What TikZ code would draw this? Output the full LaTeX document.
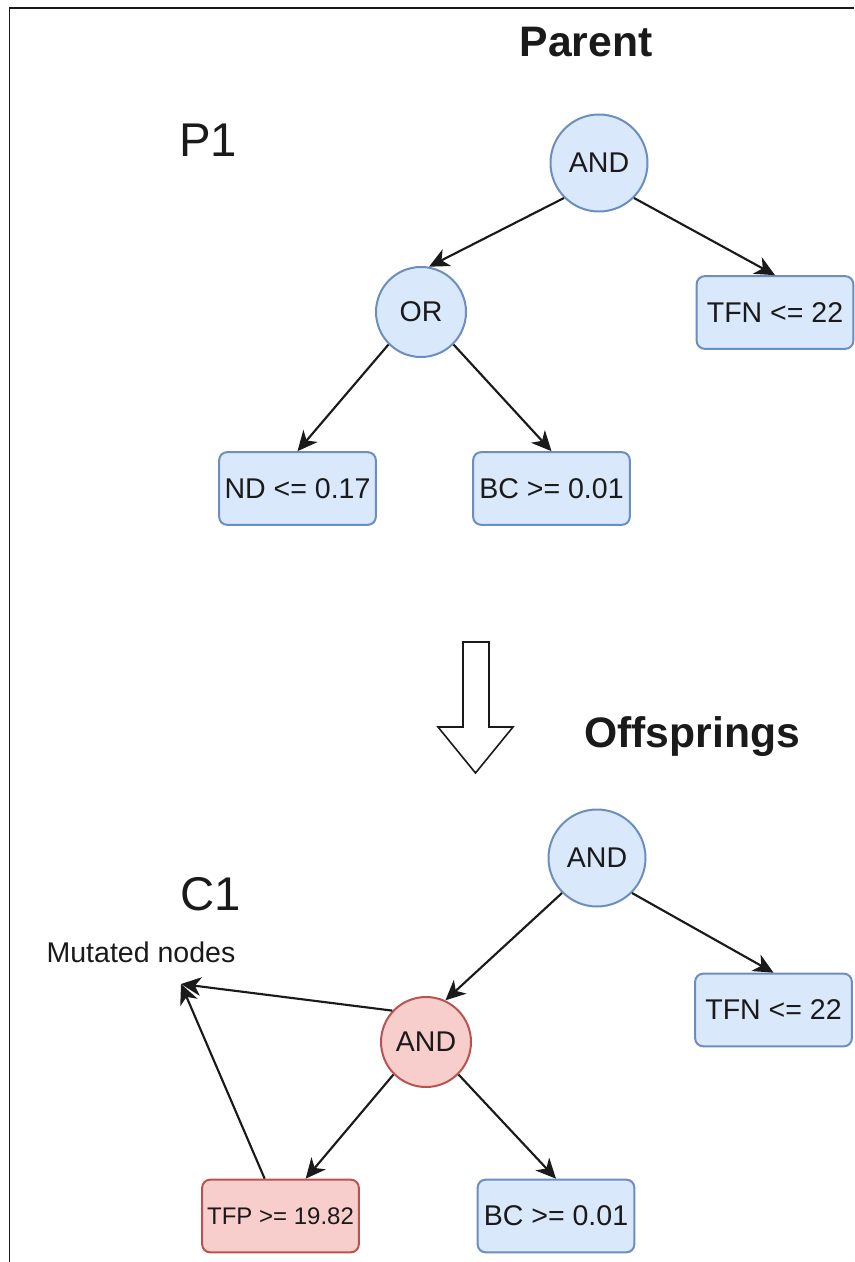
\documentclass[tikz,border=0pt]{standalone}
\usepackage{fontspec}
\setmainfont{Liberation Sans}
\usepackage{tikz}
\usetikzlibrary{arrows.meta}

\definecolor{bluefill}{HTML}{DAE8FC}
\definecolor{bluedraw}{HTML}{6C8EBF}
\definecolor{redfill}{HTML}{F8CECC}
\definecolor{reddraw}{HTML}{B85450}
\definecolor{ink}{HTML}{1A1A1A}

\begin{document}
\begin{tikzpicture}[x=0.75pt,y=-0.75pt,
  opnode/.style={circle,draw=bluedraw,fill=bluefill,line width=1.5pt,inner sep=0pt,
    minimum size=72pt,text=ink,font=\fontsize{21.4}{24}\selectfont},
  leaf/.style={rectangle,rounded corners=6pt,draw=bluedraw,fill=bluefill,line width=1.5pt,
    inner sep=0pt,minimum width=117.5pt,minimum height=54.5pt,text=ink,
    font=\fontsize{21.4}{24}\selectfont},
  mutated/.style={draw=reddraw,fill=redfill},
  edge/.style={draw=ink,line width=1.6pt,-{Stealth[length=15pt,width=14pt,inset=4.5pt]}},
  title/.style={text=ink,anchor=base,font=\fontsize{32}{36}\selectfont\bfseries},
  tag/.style={text=ink,anchor=base,font=\fontsize{35.5}{40}\selectfont}
]
\useasboundingbox (0,0) rectangle (854,1262);

\draw[ink,line width=1.1pt] (854,8) -- (9.5,8) -- (9.5,1262); % frame

% parent tree
\node [title] (parent) at (586,57) {Parent};
\node [tag] (p1) at (208,157) {P1};

\node [opnode,minimum size=72.75pt] (and1) at (599,163) {AND};
\node [opnode,minimum size=67.5pt] (or) at (421,312) {OR};
\node [leaf] (tfn1) at (775,312.5) {TFN <= 22};
\node [leaf] (nd) at (297.5,488.5) {ND <= 0.17};
\node [leaf] (bc1) at (551.5,488.5) {BC >= 0.01};

\draw[edge] (and1.225) -- (or.80);
\draw[edge] (and1.-45) -- (tfn1.north);
\draw[edge] (or.225) -- (nd.north);
\draw[edge] (or.-45) -- (bc1.north);

% block arrow
\draw[ink,line width=1.2pt,fill=white] (463,642) -- (489,642) -- (489,727) -- (513,727)
  -- (475.5,773) -- (438,727) -- (463,727) -- cycle;

% offspring tree
\node [title] (offs) at (692,747) {Offsprings};
\node [tag] (c1) at (211,910) {C1};
\node [text=ink,anchor=base,font=\fontsize{21.4}{24}\selectfont] (mutlabel) at (141,962) {Mutated nodes};
\coordinate (mut) at (181,984);

\node [opnode,minimum size=72.75pt] (and2) at (597,858) {AND};
\node [opnode,mutated,minimum size=67.5pt] (andr) at (426,1042) {AND};
\node [leaf] (tfn2) at (773.5,1010) {TFN <= 22};
\node [leaf,mutated,font=\fontsize{18}{20}\selectfont] (tfp) at (280.5,1216) {TFP >= 19.82};
\node [leaf] (bc2) at (556,1216) {BC >= 0.01};

\draw[edge] (and2.225) -- (andr.65);
\draw[edge] (and2.-45) -- (tfn2.north);
\draw[edge] (andr.225) -- (tfp.56);
\draw[edge] (andr.-45) -- (bc2.north);
\draw[edge] (andr.137) -- (mut);
\draw[edge] (tfp.113) -- (mut);

\end{tikzpicture}
\end{document}
